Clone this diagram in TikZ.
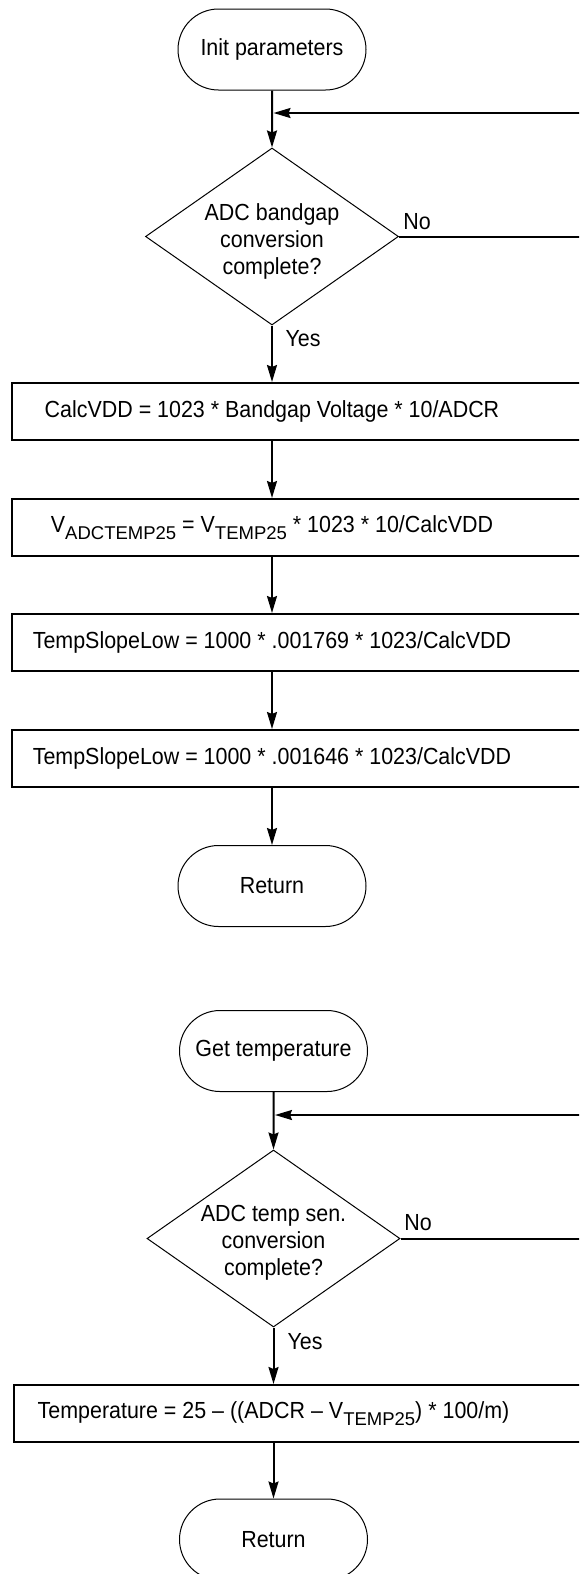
\documentclass[tikz,border=0pt]{standalone}
\usepackage{fontspec}
\setmainfont{Liberation Sans}[FakeStretch=0.92]
\newfontfamily\subfont{Liberation Sans}
\usetikzlibrary{shapes.geometric,shapes.misc,arrows.meta}
\newcommand\lowsub[1]{\raisebox{-6.5pt}{\subfont\fontsize{18.5}{18.5}\selectfont #1}}
\begin{document}
\begin{tikzpicture}[x=1pt,y=-1pt,
  txt/.style={font=\fontsize{23.3}{27}\selectfont},
  term/.style={txt, rounded rectangle, draw, line width=1pt, minimum width=188pt, minimum height=81pt, inner sep=0pt},
  decide/.style={diamond, aspect=1.43, draw, line width=1pt, minimum width=253pt, minimum height=177pt, inner sep=0pt},
  dtext/.style={txt, align=center, inner sep=0pt, yshift=-4.5pt},
  procbox/.style={txt, rectangle, draw, line width=2pt, minimum width=620pt, minimum height=57pt, inner sep=0pt},
  flow/.style={line width=2pt, -{Stealth[length=17pt,width=10pt,inset=2pt]}},
  lab/.style={txt, inner sep=0pt}]
\useasboundingbox (0,0) rectangle (579,1574);
\clip (0,0) rectangle (579,1574);

% ---------- first flow ----------
\coordinate (ax1) at (272,0);
\coordinate (r1) at (620,0);
\node[term] (init) at (272,49.5) {Init parameters};
\coordinate (j1) at (273.5,113);
\node[decide, label={[dtext]center:ADC bandgap\\conversion\\complete?}] (d1) at (272,236.5) {};
\node[procbox] (b1) at (322,411.5) {CalcVDD = 1023 * Bandgap Voltage * 10/ADCR\hspace*{100pt}};
\node[procbox] (b2) at (322,527.5) {V\lowsub{ADCTEMP25} = V\lowsub{TEMP25} * 1023 * 10/CalcVDD\hspace*{100pt}};
\node[procbox] (b3) at (322,642.5) {TempSlopeLow = 1000 * .001769 * 1023/CalcVDD\hspace*{100pt}};
\node[procbox] (b4) at (322,758.5) {TempSlopeLow = 1000 * .001646 * 1023/CalcVDD\hspace*{100pt}};
\node[term] (ret1) at (272,886) {Return};
\node[lab] (no1) at (417,222) {No};
\node[lab] (yes1) at (303,339) {Yes};

\draw[flow] (init) -- (d1);
\draw[flow] (d1.east) -- (d1.east -| r1) -- (r1 |- j1) -- (j1);
\draw[flow] (d1.south) -- (d1.south |- b1.north);
\draw[flow] (b1.south -| ax1) -- (b2.north -| ax1);
\draw[flow] (b2.south -| ax1) -- (b3.north -| ax1);
\draw[flow] (b3.south -| ax1) -- (b4.north -| ax1);
\draw[flow] (b4.south -| ax1) -- (ret1.north);

% ---------- second flow ----------
\coordinate (ax2) at (273.5,0);
\coordinate (r2) at (620,0);
\node[term] (gett) at (273.5,1051) {Get temperature};
\coordinate (j2) at (275,1115);
\node[decide, label={[dtext]center:ADC temp sen.\\conversion\\complete?}] (d2) at (273.5,1238.5) {};
\node[procbox] (b5) at (323.5,1413.5) {Temperature = 25 -- ((ADCR -- V\lowsub{TEMP25}) * 100/m)\hspace*{100pt}};
\node[term] (ret2) at (273.5,1539.5) {Return};
\node[lab] (no2) at (418,1223) {No};
\node[lab] (yes2) at (305,1342) {Yes};

\draw[flow] (gett) -- (d2);
\draw[flow] (d2.east) -- (d2.east -| r2) -- (r2 |- j2) -- (j2);
\draw[flow] (d2.south) -- (d2.south |- b5.north);
\draw[flow] (b5.south -| ax2) -- (ret2.north);
\end{tikzpicture}
\end{document}
